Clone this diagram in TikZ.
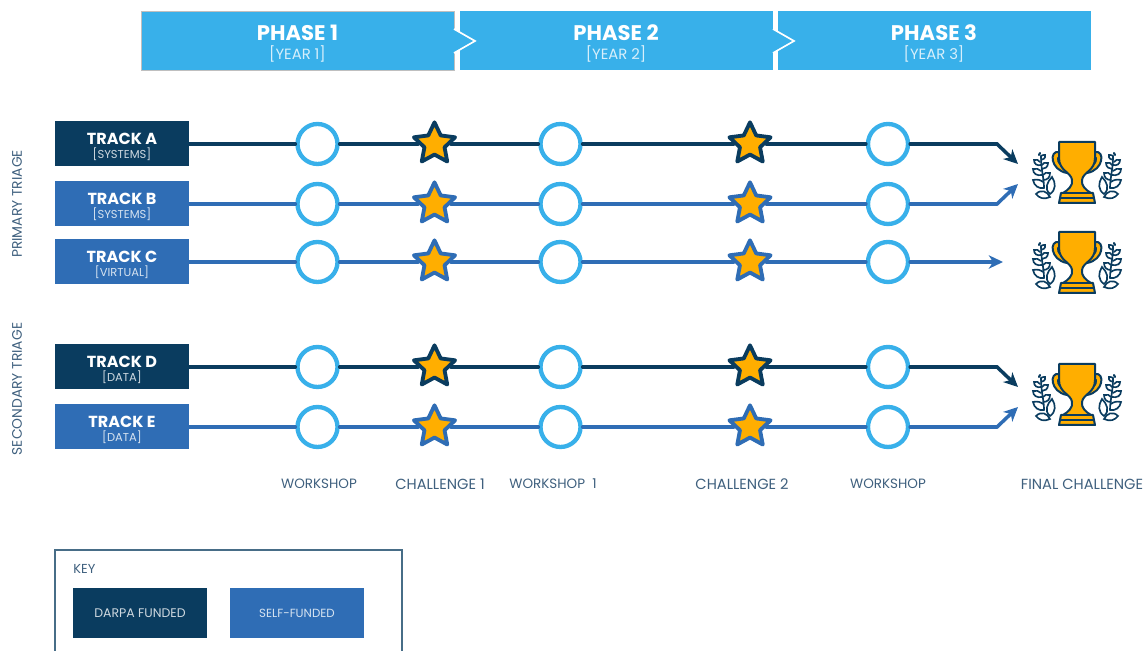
\documentclass[tikz,border=0pt]{standalone}
\usepackage{fontspec}
\setmainfont{Poppins}
\usetikzlibrary{arrows.meta,shapes.geometric}
\definecolor{navyblue}{HTML}{0A3C5F}
\definecolor{midblue}{HTML}{2F6DB5}
\definecolor{skyblue}{HTML}{38B0EA}
\definecolor{goldstar}{HTML}{FFAE00}
\definecolor{labelblue}{HTML}{3F607E}
\newcommand{\phaselines}[2]{\rule{0pt}{13pt}\fontsize{12.7}{14}\selectfont\bfseries #1\\[-1pt]\fontsize{8.9}{10}\selectfont\mdseries\color{white!80!skyblue}#2}
\newcommand{\tracklines}[3]{\rule{0pt}{10.4pt}\fontsize{9.6}{11}\selectfont\bfseries #1\\[-3.5pt]\fontsize{6.9}{9}\selectfont\mdseries\color{white!80!#3}#2}
\tikzset{
  phasebox/.style={fill=skyblue,minimum width=187.8pt,minimum height=35.4pt,inner sep=0pt,align=center,text=white},
  phasetip/.style={fill=skyblue,draw=white,line width=1pt},
  trackbox/.style={minimum width=80.4pt,minimum height=27pt,inner sep=0pt,align=center,text=white},
  navybox/.style={trackbox,fill=navyblue},
  midbox/.style={trackbox,fill=midblue},
  ring/.style={circle,draw=skyblue,fill=white,line width=2.6pt,minimum size=24pt,inner sep=0pt},
  starbase/.style={star,star points=5,star point ratio=2.05,fill=goldstar,line width=2.3pt,line join=round,minimum size=26pt,inner sep=0pt},
  navystar/.style={starbase,draw=navyblue},
  midstar/.style={starbase,draw=midblue},
  navyline/.style={draw=navyblue,line width=2.1pt,line cap=round},
  midline/.style={draw=midblue,line width=2.1pt,line cap=round},
  tiptop/.style={-{Stealth[length=8.5pt,width=8pt,inset=2.5pt]}},
  stagelabel/.style={text=labelblue,font=\fontsize{8.1}{10}\selectfont,inner sep=0pt},
  challengelabel/.style={stagelabel,font=\fontsize{8.8}{10}\selectfont},
  sidelabel/.style={stagelabel,font=\fontsize{8.3}{10}\selectfont,rotate=90},
  trophy/.pic={
    \draw [navyblue,line width=1.2pt,fill=goldstar,line join=round] (-18,10) .. controls (-28,8) and (-27,28) .. (-10,31) -- (-9,26) .. controls (-20,24) and (-21,14) .. (-17,15) -- cycle;
    \draw [navyblue,line width=1.2pt,fill=goldstar,line join=round] (18,10) .. controls (28,8) and (27,28) .. (10,31) -- (9,26) .. controls (20,24) and (21,14) .. (17,15) -- cycle;
    \draw [navyblue,line width=1.2pt,fill=goldstar,line join=round] (-18,0) -- (18,0) -- (18,16) .. controls (18,29) and (6,30) .. (5,38) .. controls (4,44) and (9,48) .. (14,51) -- (16,51) -- (18,61) -- (-18,61) -- (-16,51) -- (-14,51) .. controls (-9,48) and (-4,44) .. (-5,38) .. controls (-6,30) and (-18,29) .. (-18,16) -- cycle;
    \draw [navyblue,line width=1pt] (-16,51) -- (16,51) (-17,56) -- (17,56);
    \pic [yscale=-1] {laurel};
    \pic [xscale=-1,yscale=-1] {laurel};
  },
  laurel/.pic={
    \draw [navyblue,line width=1pt,fill=white] (-41,52) .. controls (-36,47) and (-30,49) .. (-27,55) .. controls (-33,58) and (-38,56) .. (-41,52) -- cycle;
    \draw [navyblue,line width=1pt,fill=white] (-27,52) .. controls (-33,47) and (-30,40) .. (-25,35) .. controls (-21,41) and (-21,48) .. (-27,52) -- cycle;
    \draw [navyblue,line width=1pt,line cap=round] (-33,46) .. controls (-33,36) and (-36,28) .. (-36,14);
    \draw [navyblue,line width=1pt,line cap=round] (-33,46) .. controls (-38,47) and (-43,44) .. (-44,38) .. controls (-40,37) and (-36,38) .. (-34,40);
    \draw [navyblue,line width=1pt,line cap=round] (-35,33) .. controls (-40,34) and (-44,32) .. (-44,27) .. controls (-41,26) and (-38,27) .. (-36,29);
    \draw [navyblue,line width=1pt,line cap=round] (-36,23) .. controls (-40,24) and (-43,22) .. (-43,18) .. controls (-41,17) and (-38,18) .. (-37,20);
    \draw [navyblue,line width=1pt,line cap=round] (-34,38) .. controls (-30,38) and (-27,36) .. (-27,31) .. controls (-30,30) and (-33,31) .. (-34,33);
    \draw [navyblue,line width=1pt,line cap=round] (-35,27) .. controls (-32,27) and (-29,25) .. (-29,21) .. controls (-32,20) and (-34,21) .. (-35,23);
    \draw [navyblue,line width=1pt,line cap=round] (-36,18) .. controls (-34,18) and (-31,16) .. (-32,13) .. controls (-34,13) and (-35,13) .. (-36,14);
    \draw [navyblue,line width=1.3pt,line cap=round] (-38,13) -- (-37,11);
  }
}
\begin{document}
\begin{tikzpicture}[x=0.60pt,y=0.60pt,yscale=-1,xscale=1]
\useasboundingbox (0,0) rectangle (1145,651);
%Phase boxes
\node [phasebox,draw=black!25,line width=.5pt] (phaseA) at (297.5,40.5) {\phaselines{PHASE 1}{[YEAR 1]}};
\node [phasebox] (phaseB) at (616,40.5) {\phaselines{PHASE 2}{[YEAR 2]}};
\node [phasebox] (phaseC) at (934,40.5) {\phaselines{PHASE 3}{[YEAR 3]}};
%Phase tips
\draw [phasetip] (454,29) -- (475,41) -- (454,53);
\draw [phasetip] (773,29) -- (794,41) -- (773,53);
%Track boxes
\node [navybox] (trackA) at (122,144) {\tracklines{TRACK A}{[SYSTEMS]}{navyblue}};
\node [midbox] (trackB) at (122,204) {\tracklines{TRACK B}{[SYSTEMS]}{midblue}};
\node [midbox] (trackC) at (122,262) {\tracklines{TRACK C}{[VIRTUAL]}{midblue}};
\node [navybox] (trackD) at (122,367) {\tracklines{TRACK D}{[DATA]}{navyblue}};
\node [midbox] (trackE) at (122,427) {\tracklines{TRACK E}{[DATA]}{midblue}};
%Rings and stars, row A
\node [ring] (ringA1) at (317.5,144) {};
\node [navystar] (starA1) at (434.5,144) {};
\node [ring] (ringA2) at (560.5,144) {};
\node [navystar] (starA2) at (750,144) {};
\node [ring] (ringA3) at (888,144) {};
%Rings and stars, row B
\node [ring] (ringB1) at (317.5,204) {};
\node [midstar] (starB1) at (434.5,204) {};
\node [ring] (ringB2) at (560.5,204) {};
\node [midstar] (starB2) at (750,204) {};
\node [ring] (ringB3) at (888,204) {};
%Rings and stars, row C
\node [ring] (ringC1) at (317.5,262) {};
\node [midstar] (starC1) at (434.5,262) {};
\node [ring] (ringC2) at (560.5,262) {};
\node [midstar] (starC2) at (750,262) {};
\node [ring] (ringC3) at (888,262) {};
%Rings and stars, row D
\node [ring] (ringD1) at (317.5,367) {};
\node [navystar] (starD1) at (434.5,367) {};
\node [ring] (ringD2) at (560.5,367) {};
\node [navystar] (starD2) at (750,367) {};
\node [ring] (ringD3) at (888,367) {};
%Rings and stars, row E
\node [ring] (ringE1) at (317.5,427) {};
\node [midstar] (starE1) at (434.5,427) {};
\node [ring] (ringE2) at (560.5,427) {};
\node [midstar] (starE2) at (750,427) {};
\node [ring] (ringE3) at (888,427) {};
%Bends and arrow ends
\coordinate (bendA) at (997,144);
\coordinate (endA) at (1018,164);
\coordinate (bendB) at (997,204);
\coordinate (endB) at (1018,184);
\coordinate (endC) at (1003,262);
\coordinate (bendD) at (997,367);
\coordinate (endD) at (1018,387);
\coordinate (bendE) at (997,427);
\coordinate (endE) at (1018,407);
%Track lines
\draw [navyline] (trackA) -- (ringA1);
\draw [navyline] (ringA1) -- (starA1);
\draw [navyline] (starA1) -- (ringA2);
\draw [navyline] (ringA2) -- (starA2);
\draw [navyline] (starA2) -- (ringA3);
\draw [navyline] (ringA3) -- (bendA);
\draw [navyline,tiptop] (bendA) -- (endA);
\draw [midline] (trackB) -- (ringB1);
\draw [midline] (ringB1) -- (starB1);
\draw [midline] (starB1) -- (ringB2);
\draw [midline] (ringB2) -- (starB2);
\draw [midline] (starB2) -- (ringB3);
\draw [midline] (ringB3) -- (bendB);
\draw [midline,tiptop] (bendB) -- (endB);
\draw [midline] (trackC) -- (ringC1);
\draw [midline] (ringC1) -- (starC1);
\draw [midline] (starC1) -- (ringC2);
\draw [midline] (ringC2) -- (starC2);
\draw [midline] (starC2) -- (ringC3);
\draw [midline,tiptop] (ringC3) -- (endC);
\draw [navyline] (trackD) -- (ringD1);
\draw [navyline] (ringD1) -- (starD1);
\draw [navyline] (starD1) -- (ringD2);
\draw [navyline] (ringD2) -- (starD2);
\draw [navyline] (starD2) -- (ringD3);
\draw [navyline] (ringD3) -- (bendD);
\draw [navyline,tiptop] (bendD) -- (endD);
\draw [midline] (trackE) -- (ringE1);
\draw [midline] (ringE1) -- (starE1);
\draw [midline] (starE1) -- (ringE2);
\draw [midline] (ringE2) -- (starE2);
\draw [midline] (starE2) -- (ringE3);
\draw [midline] (ringE3) -- (bendE);
\draw [midline,tiptop] (bendE) -- (endE);
%Trophies
\pic [yscale=-1] at (1077,142) {trophy};
\pic [yscale=-1] at (1077,232) {trophy};
\pic [yscale=-1] at (1077,364) {trophy};
% Text Node
\node [sidelabel] (primaryLabel) at (17,204) {PRIMARY TRIAGE};
\node [sidelabel] (secondaryLabel) at (17,389) {SECONDARY TRIAGE};
\node [stagelabel] (stageA) at (319,484) {WORKSHOP};
\node [challengelabel] (stageB) at (440,484) {CHALLENGE 1};
\node [stagelabel] (stageC) at (553,484) {WORKSHOP\ \ 1};
\node [challengelabel] (stageD) at (742,484) {CHALLENGE 2};
\node [stagelabel] (stageE) at (888,484) {WORKSHOP};
\node [challengelabel] (stageF) at (1082,484) {FINAL CHALLENGE};
%Key
\draw [navyblue!75,line width=1pt] (55,651) -- (55,550) -- (402,550) -- (402,651);
\node [stagelabel,font=\fontsize{7.8}{9}\selectfont,anchor=west] (keyLabel) at (73,568.5) {KEY};
\node [navybox,minimum height=30pt,font=\fontsize{7.5}{9}\selectfont] (keyDarpa) at (140,613) {\color{white!80!navyblue}DARPA FUNDED};
\node [midbox,minimum height=30pt,font=\fontsize{7.1}{9}\selectfont] (keySelf) at (297,613.5) {\color{white!80!midblue}SELF-FUNDED};
\end{tikzpicture}
\end{document}
